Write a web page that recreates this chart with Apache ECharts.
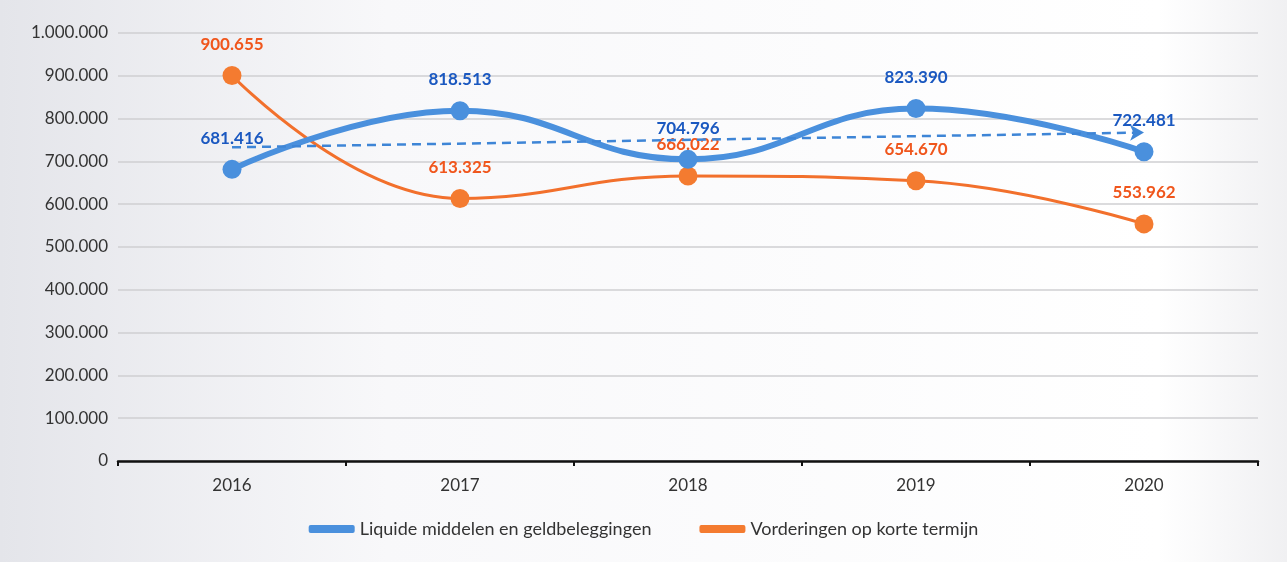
<!DOCTYPE html>
<html><head><meta charset="utf-8">
<script src="https://cdn.jsdelivr.net/npm/echarts@6/dist/echarts.min.js"></script>
<style>html,body{margin:0;padding:0;background:#fff}#c{width:1287px;height:562px}</style>
</head><body><div id="c"></div>
<script>
const categories = ['2016','2017','2018','2019','2020'];
const liquide = [681416, 818513, 704796, 823390, 722481];
const vorderingen = [900655, 613325, 666022, 654670, 553962];
const trendStart = 733000;
const trendEnd = 767500;
const yTicks = [0, 100000, 200000, 300000, 400000, 500000, 600000, 700000, 800000, 900000, 1000000];

const fmt = v => String(Math.round(v)).replace(/\B(?=(\d{3})+(?!\d))/g, '.');
const FONT = 'Lato, "Noto Sans", sans-serif';

const chart = echarts.init(document.getElementById('c'));
chart.setOption({
  backgroundColor: {
    type: 'linear', x: 0, y: 0, x2: 1, y2: 0,
    colorStops: [{offset: 0, color: '#e4e5ea'}, {offset: 0.3, color: '#f8f8fa'}, {offset: 0.9, color: '#ffffff'}, {offset: 1, color: '#f0f0f2'}]
  },
  textStyle: {fontFamily: FONT},
  animation: false,
  grid: {left: 118, right: 29, top: 33, bottom: 101},
  legend: {
    bottom: 19, left: 'center', itemGap: 48, itemWidth: 46, itemHeight: 8,
    textStyle: {fontSize: 18, color: '#333', fontFamily: FONT},
    data: [
      {name: 'Liquide middelen en geldbeleggingen', icon: 'roundRect'},
      {name: 'Vorderingen op korte termijn', icon: 'roundRect'}
    ]
  },
  xAxis: {
    type: 'category', data: categories, boundaryGap: true,
    axisLine: {lineStyle: {color: '#111', width: 2.5}},
    axisTick: {show: true, length: 5, lineStyle: {color: '#111', width: 2}},
    axisLabel: {fontSize: 17, color: '#333', margin: 16}
  },
  yAxis: {
    type: 'value', min: 0, max: 1000000, interval: 100000,
    axisLine: {show: false}, axisTick: {show: false},
    axisLabel: {fontSize: 17, color: '#333', margin: 10, formatter: v => yTicks.indexOf(v) >= 0 ? fmt(v) : ''},
    splitLine: {lineStyle: {color: '#cfcfd2', width: 1.5}}
  },
  series: [
    {
      name: 'Liquide middelen en geldbeleggingen', type: 'line', data: liquide, smooth: 0.45,
      symbol: 'circle', symbolSize: 19, z: 3,
      lineStyle: {color: '#4a90dd', width: 6},
      itemStyle: {color: '#4a90dd'},
      label: {show: true, position: 'top', distance: 13, formatter: p => fmt(p.value), color: '#1a58c0', fontWeight: 'bold', fontSize: 17},
      markLine: {
        silent: true, symbol: ['none', 'arrow'], symbolSize: [12, 14],
        lineStyle: {color: '#3e85d6', type: [9, 6], width: 2.5},
        label: {show: false},
        data: [[{coord: ['2016', trendStart]}, {coord: ['2020', trendEnd]}]]
      }
    },
    {
      name: 'Vorderingen op korte termijn', type: 'line', data: vorderingen, smooth: 0.45,
      symbol: 'circle', symbolSize: 19, z: 2,
      lineStyle: {color: '#f2702c', width: 3},
      itemStyle: {color: '#f47b30'},
      label: {show: true, position: 'top', distance: 13, formatter: p => fmt(p.value), color: '#f0561c', fontWeight: 'bold', fontSize: 17}
    }
  ]
});
</script></body></html>
